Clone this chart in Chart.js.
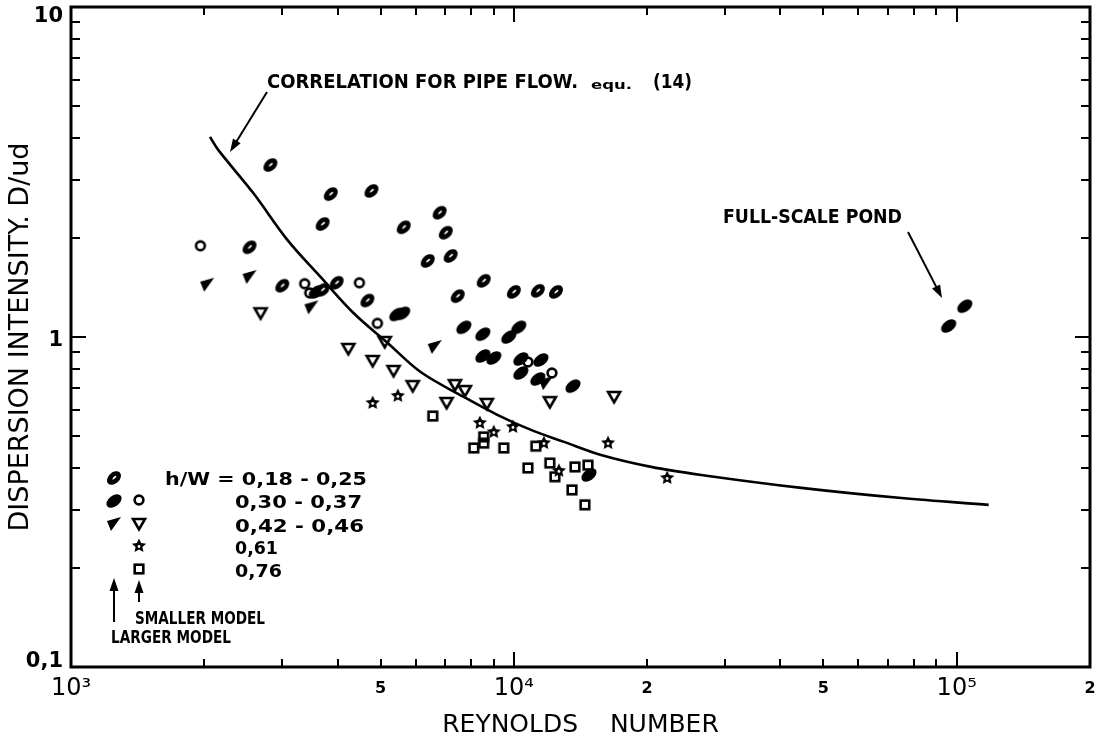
<!DOCTYPE html>
<html lang="en">
<head>
  <meta charset="UTF-8" />
  <title>Dispersion intensity vs Reynolds number</title>
  <script src="https://cdn.jsdelivr.net/npm/chart.js"></script>
  <style>
    html, body { margin: 0; padding: 0; background: #fff; }
    #wrap { width: 1099px; height: 745px; }
  </style>
</head>
<body>
  <div id="wrap"><canvas id="chart"></canvas></div>

  <script>
    // --- values (Reynolds number, D/ud) ---
    // larger model
    const slashRe = [2820, 3860, 4770, 3700, 5640, 2530, 3000, 3980, 4670, 6800, 7020, 7200, 6390, 8550, 7470, 10000, 11330, 12450, 3700];
    const slashD  = [3.32, 2.71, 2.77, 2.20, 2.15, 1.87, 1.43, 1.46, 1.29, 2.38, 2.07, 1.76, 1.70, 1.48, 1.33, 1.37, 1.38, 1.37, 1.39];
    const ovalRe  = [3580, 5440, 5610, 7710, 8510, 10260, 9740, 8510, 9010, 10370, 11510, 10370, 11330, 13600, 14780, 95900, 104300];
    const ovalD   = [1.37, 1.17, 1.18, 1.07, 1.02, 1.07, 1.00, 0.876, 0.864, 0.858, 0.852, 0.778, 0.746, 0.710, 0.382, 1.08, 1.24];
    const wedgeRe = [2030, 2530, 3490, 6630, 11820];
    const wedgeD  = [1.44, 1.52, 1.23, 0.933, 0.725];
    // smaller model
    const circleRe = [1960, 3370, 3460, 4480, 4920, 10760, 12190];
    const circleD  = [1.89, 1.45, 1.36, 1.46, 1.10, 0.840, 0.778];
    const triRe = [2680, 4230, 5110, 4800, 5350, 5910, 7050, 7360, 7750, 8690, 12060, 16840];
    const triD  = [1.18, 0.920, 0.966, 0.846, 0.789, 0.710, 0.631, 0.715, 0.686, 0.627, 0.635, 0.658];
    const starRe = [5470, 4800, 8380, 9010, 9950, 11690, 16320, 12640, 22190];
    const starD  = [0.663, 0.631, 0.549, 0.515, 0.534, 0.477, 0.477, 0.393, 0.374];
    const squareRe = [6560, 8550, 8550, 8120, 9490, 11210, 10760, 12060, 12380, 13740, 14700, 13530, 14470];
    const squareD  = [0.576, 0.498, 0.477, 0.461, 0.461, 0.467, 0.401, 0.415, 0.377, 0.404, 0.409, 0.344, 0.310];
    // correlation for pipe flow, equ. (14)
    const pipeRe = [2060, 2150, 2580, 3080, 3660, 4350, 5190, 6160, 7710, 9200, 10930, 12980, 15740, 20420, 26490, 44590, 75080, 118100];
    const pipeD  = [4.04, 3.69, 2.73, 1.97, 1.52, 1.18, 0.959, 0.783, 0.658, 0.580, 0.523, 0.481, 0.439, 0.404, 0.382, 0.349, 0.325, 0.310];

    // --- axis ticks ---
    const xTickValues = [1000, 2000, 3000, 4000, 5000, 6000, 7000, 8000, 9000,
                         10000, 20000, 30000, 40000, 50000, 60000, 70000, 80000, 90000,
                         100000, 200000];
    const xMajor = [1000, 10000, 100000];
    const xLabelValues = [1000, 5000, 10000, 20000, 50000, 100000, 200000];
    const xLabelText   = ['10³', '5', '10⁴', '2', '5', '10⁵', '2'];
    const yTickValues = [0.1, 0.2, 0.3, 0.4, 0.5, 0.6, 0.7, 0.8, 0.9,
                         1, 2, 3, 4, 5, 6, 7, 8, 9, 10];
    const yMajor = [0.1, 1, 10];
    const yLabelValues = [0.1, 1, 10];
    const yLabelText   = ['0,1', '1', '10'];

    const pairs = (xs, ys) => xs.map((x, i) => ({ x: x, y: ys[i] }));

    // --- plot symbols ---
    function makeMarker(size, draw) {
      const c = document.createElement('canvas');
      c.width = size; c.height = size;
      const g = c.getContext('2d');
      g.translate(size / 2, size / 2);
      g.fillStyle = '#000';
      g.strokeStyle = '#000';
      draw(g);
      return c;
    }
    const mSlash = makeMarker(20, g => {
      g.rotate(-0.75);
      g.beginPath(); g.ellipse(0, 0, 8, 5.6, 0, 0, Math.PI * 2); g.fill();
      g.fillStyle = '#fff';
      g.beginPath(); g.ellipse(0.5, 0, 2.6, 0.9, 0, 0, Math.PI * 2); g.fill();
    });
    const mOval = makeMarker(20, g => {
      g.rotate(-0.65);
      g.beginPath(); g.ellipse(0, 0, 8.5, 5.4, 0, 0, Math.PI * 2); g.fill();
    });
    const mWedge = makeMarker(20, g => {
      g.beginPath(); g.moveTo(-7, -3); g.lineTo(7, -7); g.lineTo(-3, 7); g.closePath(); g.fill();
    });
    const mCircle = makeMarker(16, g => {
      g.lineWidth = 2.6;
      g.beginPath(); g.arc(0, 0, 4.4, 0, Math.PI * 2); g.stroke();
    });
    const mTri = makeMarker(18, g => {
      g.lineWidth = 2.6; g.lineJoin = 'miter';
      g.beginPath(); g.moveTo(-6, -5); g.lineTo(6, -5); g.lineTo(0, 5.5); g.closePath(); g.stroke();
    });
    const mStar = makeMarker(18, g => {
      g.beginPath();
      for (let i = 0; i < 10; i++) {
        const r = i % 2 === 0 ? 7.5 : 3.6;
        const a = -Math.PI / 2 + i * Math.PI / 5;
        g.lineTo(r * Math.cos(a), r * Math.sin(a));
      }
      g.closePath(); g.fill();
      g.fillStyle = '#fff';
      g.beginPath(); g.arc(0, 0.5, 1.4, 0, Math.PI * 2); g.fill();
    });
    const mSquare = makeMarker(16, g => {
      g.lineWidth = 2.6;
      g.strokeRect(-4.3, -4.3, 8.6, 8.6);
    });

    function arrow(ctx, x1, y1, x2, y2) {
      const ang = Math.atan2(y2 - y1, x2 - x1);
      ctx.beginPath(); ctx.moveTo(x1, y1);
      ctx.lineTo(x2 - 8 * Math.cos(ang), y2 - 8 * Math.sin(ang)); ctx.stroke();
      ctx.beginPath();
      ctx.moveTo(x2, y2);
      ctx.lineTo(x2 - 13 * Math.cos(ang) + 4.5 * Math.sin(ang), y2 - 13 * Math.sin(ang) - 4.5 * Math.cos(ang));
      ctx.lineTo(x2 - 13 * Math.cos(ang) - 4.5 * Math.sin(ang), y2 - 13 * Math.sin(ang) + 4.5 * Math.cos(ang));
      ctx.closePath(); ctx.fill();
    }

    // text squeezed/stretched to the width it has on the original
    function fitText(ctx, text, x0, x1, capMid, size, weight) {
      ctx.font = (weight || 'bold') + ' ' + size + 'px "DejaVu Sans"';
      const w = ctx.measureText(text).width;
      ctx.save();
      ctx.translate(x0, capMid + size * 0.365);
      ctx.scale((x1 - x0) / w, 1);
      ctx.textBaseline = 'alphabetic';
      ctx.textAlign = 'left';
      ctx.fillText(text, 0, 0);
      ctx.restore();
    }

    // frame with inward ticks on all four sides
    const frameTicks = {
      id: 'frameTicks',
      afterDatasetsDraw(chart) {
        const { ctx, chartArea: a, scales: { x, y } } = chart;
        ctx.save();
        ctx.strokeStyle = '#000';
        ctx.lineWidth = 2;
        ctx.beginPath();
        xTickValues.forEach(v => {
          const px = Math.round(x.getPixelForValue(v));
          const len = xMajor.includes(v) ? 15 : 8;
          ctx.moveTo(px, a.bottom); ctx.lineTo(px, a.bottom - len);
          ctx.moveTo(px, a.top); ctx.lineTo(px, a.top + len);
        });
        yTickValues.forEach(v => {
          const py = Math.round(y.getPixelForValue(v));
          const len = yMajor.includes(v) ? 15 : 9;
          ctx.moveTo(a.left, py); ctx.lineTo(a.left + len, py);
          ctx.moveTo(a.right, py); ctx.lineTo(a.right - len, py);
        });
        ctx.stroke();
        ctx.lineWidth = 3;
        ctx.strokeRect(a.left, a.top, a.right - a.left, a.bottom - a.top);
        ctx.restore();
      }
    };

    // key and notes written on the plot
    const notes = {
      id: 'notes',
      afterDraw(chart) {
        const ctx = chart.ctx;
        ctx.save();
        ctx.fillStyle = '#000';
        ctx.strokeStyle = '#000';
        ctx.lineWidth = 2;

        fitText(ctx, 'CORRELATION FOR PIPE FLOW.', 267, 578, 81, 19);
        fitText(ctx, 'equ.', 591, 632, 84, 13);
        fitText(ctx, '(14)', 653, 692, 81, 19);
        arrow(ctx, 267, 92, 230, 152);

        fitText(ctx, 'FULL-SCALE POND', 723, 902, 216, 20);
        arrow(ctx, 908, 232, 942, 298);

        const put = (m, cx, cy) => ctx.drawImage(m, cx - m.width / 2, cy - m.height / 2);
        put(mSlash, 114, 478);
        put(mOval, 114, 501); put(mCircle, 139, 500);
        put(mWedge, 114, 524); put(mTri, 139, 524);
        put(mStar, 139, 546);
        put(mSquare, 139, 569);

        fitText(ctx, 'h/W = 0,18 - 0,25', 165, 367, 478, 18);
        fitText(ctx, '0,30 - 0,37', 235, 362, 501, 18);
        fitText(ctx, '0,42 - 0,46', 235, 364, 525, 18);
        fitText(ctx, '0,61', 235, 278, 547, 18);
        fitText(ctx, '0,76', 235, 282, 570, 18);

        arrow(ctx, 114, 622, 114, 578);
        arrow(ctx, 139, 602, 139, 580);
        fitText(ctx, 'SMALLER MODEL', 135, 265, 618, 17);
        fitText(ctx, 'LARGER MODEL', 111, 231, 637, 17);
        ctx.restore();
      }
    };

    const pointSet = (label, xs, ys, marker) => ({
      type: 'scatter',
      label: label,
      data: pairs(xs, ys),
      pointStyle: marker,
      pointRadius: 6,
      showLine: false
    });

    new Chart(document.getElementById('chart'), {
      data: {
        datasets: [
          {
            type: 'line',
            label: 'Correlation for pipe flow, equ. (14)',
            data: pairs(pipeRe, pipeD),
            borderColor: '#000',
            borderWidth: 2.6,
            pointRadius: 0,
            tension: 0.35,
            fill: false
          },
          pointSet('h/W = 0,18 - 0,25 (larger model)', slashRe, slashD, mSlash),
          pointSet('h/W = 0,30 - 0,37 (larger model)', ovalRe, ovalD, mOval),
          pointSet('h/W = 0,42 - 0,46 (larger model)', wedgeRe, wedgeD, mWedge),
          pointSet('h/W = 0,30 - 0,37 (smaller model)', circleRe, circleD, mCircle),
          pointSet('h/W = 0,42 - 0,46 (smaller model)', triRe, triD, mTri),
          pointSet('h/W = 0,61', starRe, starD, mStar),
          pointSet('h/W = 0,76', squareRe, squareD, mSquare)
        ]
      },
      options: {
        responsive: true,
        maintainAspectRatio: false,
        animation: false,
        events: [],
        layout: { padding: { top: 7, right: 9, left: 0, bottom: 0 } },
        plugins: { legend: { display: false }, tooltip: { enabled: false } },
        scales: {
          x: {
            type: 'logarithmic',
            min: 1000,
            max: 200000,
            afterBuildTicks: s => { s.ticks = xTickValues.map(v => ({ value: v })); },
            afterFit: s => { s.height = 78; s.paddingLeft = 0; s.paddingRight = 0; },
            grid: { display: false, drawTicks: false },
            border: { display: false },
            ticks: {
              autoSkip: false,
              maxRotation: 0,
              minRotation: 0,
              padding: 7,
              color: '#000',
              font: c => xMajor.includes(c.tick && c.tick.value)
                ? { family: 'DejaVu Sans', size: 24, lineHeight: 1.2 }
                : { family: 'DejaVu Sans', size: 16, weight: 'bold', lineHeight: 1.8 },
              callback: v => {
                const i = xLabelValues.indexOf(v);
                return i >= 0 ? xLabelText[i] : '';
              }
            },
            title: {
              display: true,
              text: 'REYNOLDS    NUMBER',
              color: '#000',
              font: { family: 'DejaVu Sans', size: 25 },
              padding: { top: 0, bottom: 5 }
            }
          },
          y: {
            type: 'logarithmic',
            min: 0.1,
            max: 10,
            afterBuildTicks: s => { s.ticks = yTickValues.map(v => ({ value: v })); },
            afterFit: s => { s.width = 71; s.paddingTop = 0; s.paddingBottom = 0; },
            grid: { display: false, drawTicks: false },
            border: { display: false },
            ticks: {
              autoSkip: false,
              padding: 8,
              color: '#000',
              // the end labels sit a little inside the frame on the original
              font: c => {
                const v = c.tick && c.tick.value;
                return { family: 'DejaVu Sans', size: 21, weight: 'bold',
                         lineHeight: v === 10 ? '20px' : v === 0.1 ? '10px' : '8px' };
              },
              callback: v => {
                const i = yLabelValues.indexOf(v);
                if (i < 0) return '';
                if (v === 10 || v === 1) return ['', yLabelText[i]];
                if (v === 0.1) return [yLabelText[i], ''];
                return yLabelText[i];
              }
            },
            title: {
              display: true,
              text: 'DISPERSION INTENSITY. D/ud',
              color: '#000',
              font: { family: 'DejaVu Sans', size: 27 },
              padding: { top: 5, bottom: 0 }
            }
          }
        }
      },
      plugins: [frameTicks, notes]
    });
  </script>
</body>
</html>
